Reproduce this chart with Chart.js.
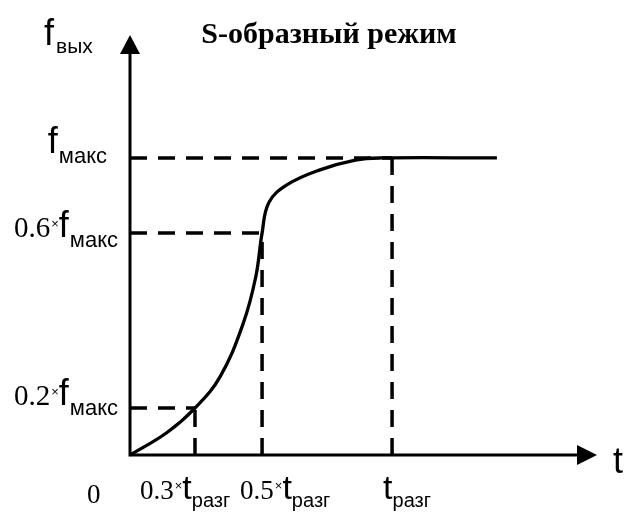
<!DOCTYPE html>
<html>
<head>
<meta charset="utf-8">
<script src="https://cdn.jsdelivr.net/npm/chart.js@4/dist/chart.umd.min.js"></script>
<style>
  html, body { margin: 0; padding: 0; background: #fff; }
  #wrap { width: 629px; height: 522px; }
</style>
</head>
<body>
<div id="wrap"><canvas id="chart"></canvas></div>
<script>
// S-curve (x in units of t_разг, y in units of f_макс, as drawn)
const curveX = [0, 0.140, 0.248, 0.344, 0.432, 0.480, 0.504, 0.530, 0.600, 0.725, 0.860, 0.960, 1.40];
const curveY = [0, 0.075, 0.158, 0.264, 0.443, 0.600, 0.747, 0.850, 0.910, 0.960, 0.993, 1.0, 1.0];

// marked levels (the sketch is not to scale, so these are the drawn positions)
const xTicks = [0, 0.248, 0.504, 1.0];
const xTickNum = ['0', '0.3', '0.5', ''];
const xTickSub = ['', 'разг', 'разг', 'разг'];
const yTicks = [0.158, 0.747, 1.0];
const yTickNum = ['0.2', '0.6', ''];
const yTickSub = ['макс', 'макс', 'макс'];

// dashed guides: [x, y] corner of each
const guideX = [0.248, 0.504, 1.0];
const guideY = [0.158, 0.747, 1.0];

const titleText = 'S-образный режим';
const yAxisMain = 'f';
const yAxisSub = 'вых';
const xAxisLabel = 't';

const SERIF = '"Liberation Serif", "Times New Roman", serif';
const SANS = '"Liberation Sans", Arial, sans-serif';

const guideSets = [];
guideX.forEach((gx, i) => {
  const gy = guideY[i];
  guideSets.push({ data: [{ x: 0, y: gy }, { x: gx, y: gy }] });
  guideSets.push({ data: [{ x: gx, y: 0 }, { x: gx, y: gy }] });
});

const datasets = guideSets.map(g => ({
  data: g.data,
  borderColor: '#000',
  borderWidth: 3.5,
  borderDash: [17, 11],
  pointRadius: 0,
  tension: 0,
  clip: false
}));
datasets.push({
  data: curveX.map((x, i) => ({ x, y: curveY[i] })),
  borderColor: '#000',
  borderWidth: 3.3,
  pointRadius: 0,
  tension: 0.4,
  clip: false
});

// draw pieces of text one after the other: [text, font, dy, gap]
function drawPieces(ctx, x, y, pieces) {
  pieces.forEach(p => {
    ctx.font = p[1];
    ctx.fillText(p[0], x, y + p[2]);
    x += ctx.measureText(p[0]).width + (p[3] || 0);
  });
}
function piecesWidth(ctx, pieces) {
  let w = 0;
  pieces.forEach(p => { ctx.font = p[1]; w += ctx.measureText(p[0]).width + (p[3] || 0); });
  return w;
}

const sketchPlugin = {
  id: 'sketch',
  afterDatasetsDraw(chart) {
    const ctx = chart.ctx;
    const xs = chart.scales.x, ys = chart.scales.y;
    const x0 = xs.getPixelForValue(0), y0 = ys.getPixelForValue(0);
    const area = chart.chartArea;
    ctx.save();
    ctx.fillStyle = '#000';
    ctx.strokeStyle = '#000';
    ctx.lineWidth = 3;

    // axes with arrows
    ctx.beginPath();
    ctx.moveTo(x0, y0 + 1.5);
    ctx.lineTo(x0, area.top + 16);
    ctx.moveTo(x0 - 1.5, y0);
    ctx.lineTo(area.right - 18, y0);
    ctx.stroke();
    ctx.beginPath();
    ctx.moveTo(x0, area.top);
    ctx.lineTo(x0 - 10, area.top + 19);
    ctx.lineTo(x0 + 10, area.top + 19);
    ctx.closePath();
    ctx.fill();
    ctx.beginPath();
    ctx.moveTo(area.right, y0);
    ctx.lineTo(area.right - 20, y0 - 10);
    ctx.lineTo(area.right - 20, y0 + 10);
    ctx.closePath();
    ctx.fill();

    ctx.textBaseline = 'alphabetic';
    ctx.textAlign = 'left';

    // title
    ctx.font = 'bold 30px ' + SERIF;
    ctx.textAlign = 'center';
    ctx.fillText(titleText, 329, 43);
    ctx.textAlign = 'left';

    // axis names
    drawPieces(ctx, 44, 45, [[yAxisMain, '36px ' + SANS, 0, 2], [yAxisSub, '21px ' + SANS, 8]]);
    drawPieces(ctx, 613, 473, [[xAxisLabel, '36px ' + SANS, 0]]);

    // y tick labels (right aligned)
    const yRight = [118, 118, 107];
    const yShift = [-3, 4, -5];
    yTicks.forEach((v, i) => {
      const py = ys.getPixelForValue(v) + yShift[i];
      const pieces = [];
      if (yTickNum[i]) {
        pieces.push([yTickNum[i], '29px ' + SERIF, 0, 1]);
        pieces.push(['×', '13px ' + SANS, -9, 0]);
      }
      pieces.push(['f', '36px ' + SANS, 0, 1]);
      pieces.push([yTickSub[i], '22px ' + SANS, 10]);
      drawPieces(ctx, yRight[i] - piecesWidth(ctx, pieces), py, pieces);
    });

    // x tick labels
    const xOff = [-43, -55, -22, -9];
    xTicks.forEach((v, i) => {
      const px = xs.getPixelForValue(v) + xOff[i];
      const pieces = [];
      if (xTickNum[i]) pieces.push([xTickNum[i], '27px ' + SERIF, 0, 1]);
      if (xTickSub[i]) {
        if (xTickNum[i]) pieces.push(['×', '13px ' + SANS, -9, 0]);
        pieces.push(['t', '34px ' + SANS, 0, 0]);
        pieces.push([xTickSub[i], '20px ' + SANS, 8]);
      }
      drawPieces(ctx, px, i === 0 ? 503 : 499, pieces);
    });
    ctx.restore();
  }
};

new Chart(document.getElementById('chart'), {
  type: 'line',
  data: { datasets },
  options: {
    responsive: true,
    maintainAspectRatio: false,
    animation: false,
    layout: { padding: { left: 130, right: 32, top: 35, bottom: 67 } },
    plugins: { legend: { display: false }, tooltip: { enabled: false }, title: { display: false } },
    scales: {
      x: { type: 'linear', min: 0, max: 1.782, display: false },
      y: { type: 'linear', min: 0, max: 1.414, display: false }
    }
  },
  plugins: [sketchPlugin]
});
</script>
</body>
</html>
